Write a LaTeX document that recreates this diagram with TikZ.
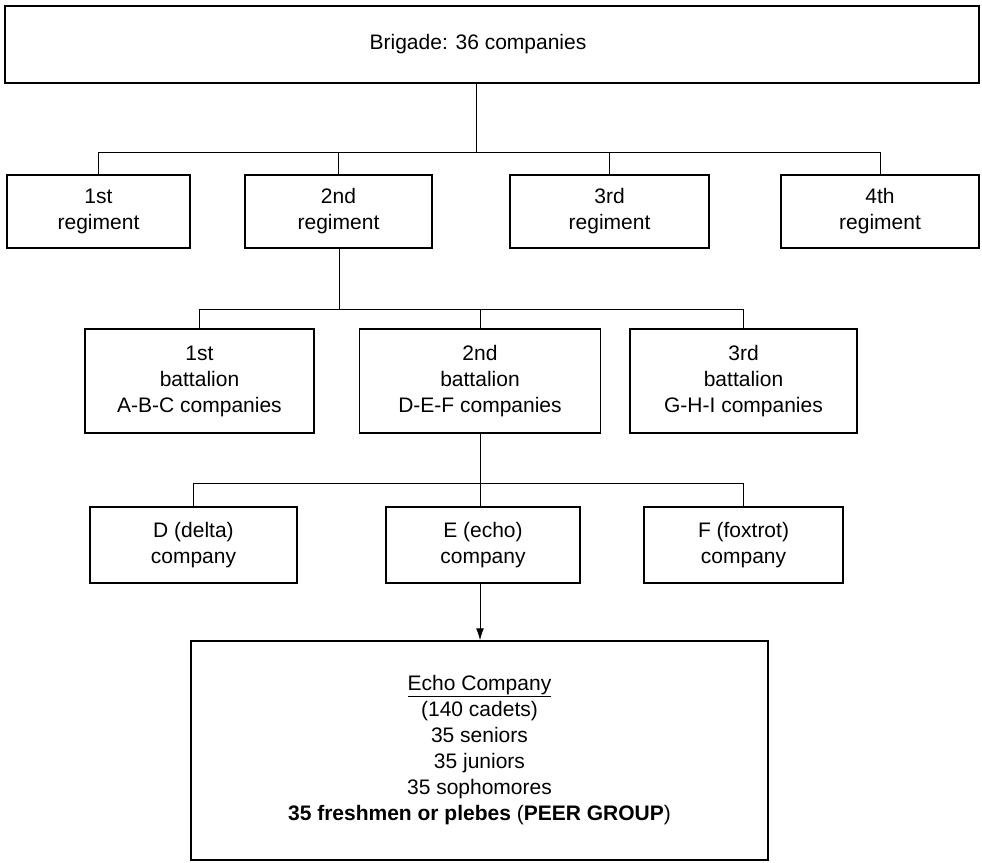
\documentclass[tikz,border=0pt]{standalone}
\usepackage{fontspec}
\setmainfont{Liberation Sans}
\usetikzlibrary{arrows.meta}
\tikzset{
  box/.style={draw, line width=1.5pt, inner sep=0pt, align=center,
    font=\fontsize{21}{26}\selectfont},
  conn/.style={draw, line width=1pt},
}
\begin{document}
\begin{tikzpicture}[x=1pt,y=-1pt]
\useasboundingbox (0,0) rectangle (982,862);
% brigade
\node[box, minimum width=974pt, minimum height=77pt] (brig) at (492,44.5) {\hspace*{-28pt}Brigade: 36 companies};
% regiments
\node[box, minimum width=183pt, minimum height=73pt] (r1) at (98.5,211.5) {1st\\regiment};
\node[box, minimum width=187pt, minimum height=73pt] (r2) at (338.5,211.5) {2nd\\regiment};
\node[box, minimum width=199pt, minimum height=73pt] (r3) at (609.5,211.5) {3rd\\regiment};
\node[box, minimum width=198pt, minimum height=73pt] (r4) at (880,211.5) {4th\\regiment};
% battalions
\node[box, minimum width=229pt, minimum height=104pt] (b1) at (199.5,381) {1st\\battalion\\A-B-C companies};
\node[box, minimum width=241pt, minimum height=104pt] (b2) at (480,381) {2nd\\battalion\\D-E-F companies};
\node[box, minimum width=227pt, minimum height=104pt] (b3) at (743.5,381) {3rd\\battalion\\G-H-I companies};
% companies
\node[box, minimum width=207pt, minimum height=76pt] (cd) at (193.5,545) {D (delta)\\company};
\node[box, minimum width=194pt, minimum height=76pt] (ce) at (483,545) {E (echo)\\company};
\node[box, minimum width=199pt, minimum height=76pt] (cf) at (743.5,545) {F (foxtrot)\\company};
% echo company detail
\node[box, minimum width=577pt, minimum height=219pt] (echo) at (479.5,750.5)
  {\underline{Echo Company}\\(140 cadets)\\35 seniors\\35 juniors\\35 sophomores\\\textbf{35 freshmen or plebes} (\textbf{PEER GROUP})};
% junction coordinates
\coordinate (bj) at (476,152);
\coordinate (rj) at (339,309);
\coordinate (cj) at (480,483);
% brigade -> regiments
\draw[conn] (bj |- brig.south) -- (bj);
\draw[conn] (r1.north |- bj) -- (r4.north |- bj);
\foreach \n in {r1,r2,r3,r4} {\draw[conn] (\n.north |- bj) -- (\n.north);}
% 2nd regiment -> battalions
\draw[conn] (rj |- r2.south) -- (rj);
\draw[conn] (b1.north |- rj) -- (b3.north |- rj);
\foreach \n in {b1,b2,b3} {\draw[conn] (\n.north |- rj) -- (\n.north);}
% 2nd battalion -> companies
\draw[conn] (cj |- b2.south) -- (cj);
\draw[conn] (cd.north |- cj) -- (cf.north |- cj);
\draw[conn] (cd.north |- cj) -- (cd.north);
\draw[conn] (cj) -- (cj |- ce.north);
\draw[conn] (cf.north |- cj) -- (cf.north);
% echo -> detail
\draw[conn, -{Latex[length=12pt,width=8pt]}] (cj |- ce.south) -- (cj |- echo.north);
\end{tikzpicture}
\end{document}
